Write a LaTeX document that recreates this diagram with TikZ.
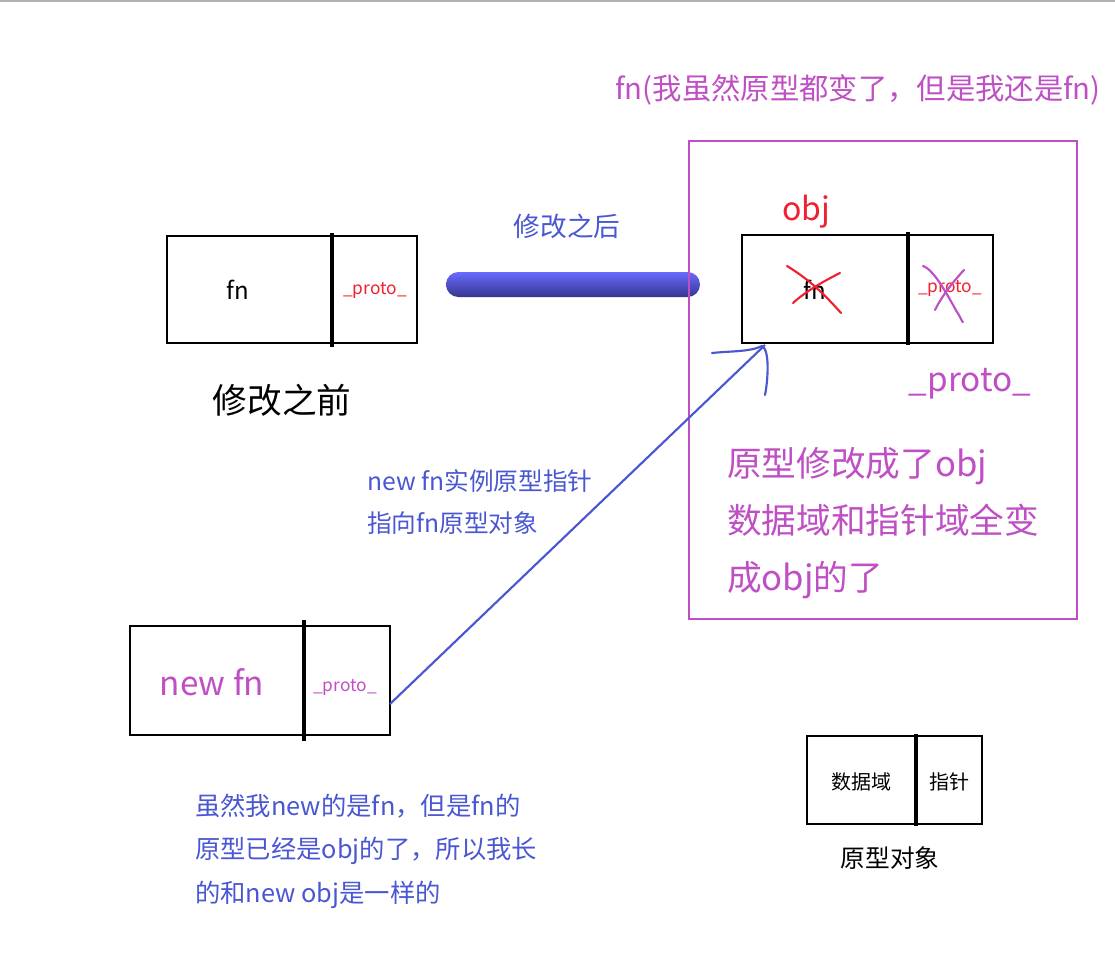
\documentclass[tikz,border=0pt]{standalone}
\usepackage{fontspec}
\setmainfont{Noto Sans CJK SC}
\definecolor{pur}{HTML}{BF4FC4}
\definecolor{blu}{HTML}{4A57D2}
\definecolor{redc}{HTML}{F0202E}
\definecolor{bartop}{HTML}{6A6AFF}
\definecolor{barbot}{HTML}{35358F}
\newcommand{\fs}[2]{\fontsize{#1}{#2}\selectfont}
\begin{document}
\begin{tikzpicture}[x=0.75pt,y=-0.75pt,
  box/.style={draw=black, line width=1.9pt, inner sep=0pt},
  divider/.style={line width=3pt, black},
  txt/.style={inner sep=0pt},
]
\useasboundingbox[fill=white] (0,0) rectangle (1115,957);
\fill[black!30] (0,0) rectangle (1115,2);

% title
\node[txt, text=pur, font=\fs{22}{26}] (title) at (858,90) {fn(我虽然原型都变了，但是我还是fn)};

% before box
\node[box, minimum width=250*0.75pt, minimum height=107*0.75pt] (fnbox) at (292,289.5) {};
\draw[divider] (332,233) -- (332,347);
\node[txt, font=\fs{18}{20}] (fnlbl) at (238,290) {fn};
\node[txt, text=redc, font=\fs{13}{15}] (fnproto) at (375,290) {\_proto\_};
\node[txt, font=\fs{26}{30}] (before) at (282,400) {修改之前};

% bar
\node[txt, text=blu, font=\fs{20}{24}] (after) at (567,226) {修改之后};
\shade[top color=bartop, bottom color=barbot, rounded corners=9.3pt] (446,272) rectangle (700,297);

% purple frame
\node[draw=pur, line width=2.2pt, minimum width=388*0.75pt, minimum height=478*0.75pt, inner sep=0pt] (frame) at (883,380) {};

% obj box
\node[box, minimum width=251*0.75pt, minimum height=108*0.75pt] (objbox) at (867.5,289) {};
\draw[divider] (908,232) -- (908,345);
\node[txt, text=redc, font=\fs{24}{28}] (objlbl) at (806,212) {obj};
\node[txt, font=\fs{18}{20}] (objfn) at (815,290) {fn};
\node[txt, text=redc, font=\fs{13}{15}] (objproto) at (950,288) {\_proto\_};
% red cross
\draw[redc, line width=1.6pt, line cap=round] (787,266) .. controls (810,280) and (825,295) .. (841,313);
\draw[redc, line width=1.6pt, line cap=round] (840,273) .. controls (822,282) and (805,292) .. (793,303);
% purple cross
\draw[pur, line width=1.6pt, line cap=round] (923,266) .. controls (935,270) and (950,300) .. (957,312) .. controls (961,318) and (962,322) .. (963,322);
\draw[pur, line width=1.6pt, line cap=round] (964,270) .. controls (952,283) and (942,296) .. (935,310);
\node[txt, text=pur, font=\fs{25}{28}] (protobig) at (970,384) {\_proto\_};

% frame text
\node[txt, text=pur, font=\fs{26}{43}, align=left, anchor=west] (frametxt) at (727,523)
  {原型修改成了obj\\数据域和指针域全变\\成obj的了};

% new fn box
\node[box, minimum width=260*0.75pt, minimum height=109*0.75pt] (newbox) at (260,680.5) {};
\draw[divider] (304,620) -- (304,741);
\node[txt, text=pur, font=\fs{25}{28}] (newlbl) at (212,682) {new fn};
\node[txt, text=pur, font=\fs{13}{15}] (newproto) at (345,687) {\_proto\_};

% pointer
\coordinate (pstart) at (390,704);
\coordinate (pend) at (765,345);
\draw[blu, line width=1.6pt] (pstart) -- (pend);
\draw[blu, line width=1.6pt, line cap=round] (712,353) .. controls (730,351) and (750,352) .. (762,346);
\draw[blu, line width=1.6pt, line cap=round] (762,346) .. controls (770,350) and (768,380) .. (765,395);
\node[txt, text=blu, font=\fs{18.5}{31.5}, align=left, anchor=west] (ptrtxt) at (367,502)
  {new fn实例原型指针\\指向fn原型对象};

% bottom text
\node[txt, text=blu, font=\fs{19}{32.5}, align=left, anchor=west] (bottxt) at (195,851)
  {虽然我new的是fn，但是fn的\\原型已经是obj的了，所以我长\\的和new obj是一样的};

% legend
\node[box, minimum width=175*0.75pt, minimum height=88*0.75pt] (legbox) at (894.5,780) {};
\draw[divider] (916,734) -- (916,826);
\node[txt, font=\fs{15}{18}] (legdata) at (861,782) {数据域};
\node[txt, font=\fs{15}{18}] (legptr) at (949,782) {指针};
\node[txt, font=\fs{18.5}{22}] (legname) at (890,858) {原型对象};
\end{tikzpicture}
\end{document}
